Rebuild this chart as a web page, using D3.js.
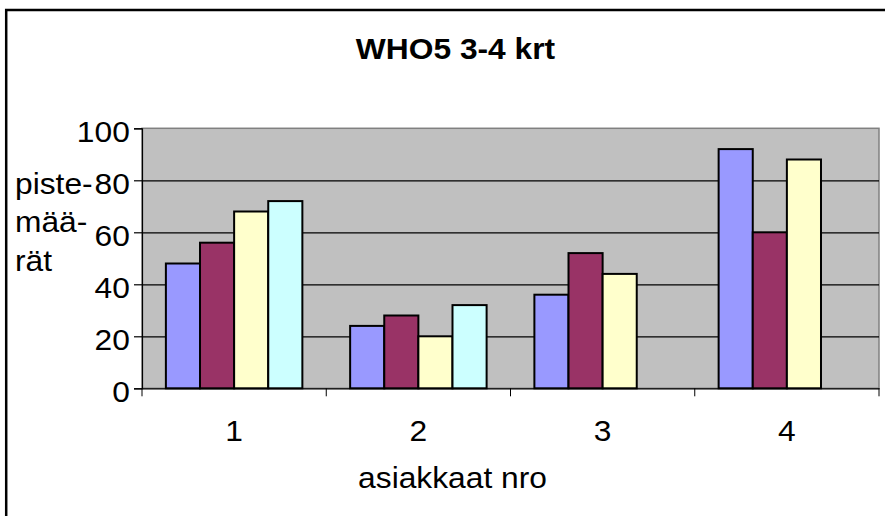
<!DOCTYPE html>
<html>
<head>
<meta charset="utf-8">
<script src="https://cdn.jsdelivr.net/npm/d3@7"></script>
<style>
  body { margin: 0; background: #fff; }
  text { font-family: "Liberation Sans", Arial, sans-serif; }
</style>
</head>
<body>
<div id="chart"></div>
<script>
// data
const categories = ["1", "2", "3", "4"];
const seriesNames = ["Sarja1", "Sarja2", "Sarja3", "Sarja4"];
const sarja1 = [48, 24, 36, 92];
const sarja2 = [56, 28, 52, 60];
const sarja3 = [68, 20, 44, 88];
const sarja4 = [72, 32, null, null];
const yTicks = [0, 20, 40, 60, 80, 100];
const colors = ["#9999FF", "#993366", "#FFFFCC", "#CCFFFF"];

const width = 885;
const height = 516;
const plot = { left: 142, right: 879, top: 128.3, bottom: 388.3 };
const fontSize = 29;
const sx = 1.095; // text in the original is a bit stretched sideways

const allSeries = [sarja1, sarja2, sarja3, sarja4];

const svg = d3.select("#chart")
  .append("svg")
  .attr("width", width)
  .attr("height", height);

// chart border (runs off the right and bottom edges)
svg.append("rect")
  .attr("x", 6.2)
  .attr("y", 10)
  .attr("width", 1000)
  .attr("height", 1000)
  .attr("fill", "#fff")
  .attr("stroke", "#000")
  .attr("stroke-width", 2.5);

const x0 = d3.scaleBand()
  .domain(categories)
  .range([plot.left, plot.right])
  .padding(0);

const x1 = d3.scaleBand()
  .domain(seriesNames)
  .range([0, x0.bandwidth()])
  .paddingInner(0)
  .paddingOuter(0.7);

const y = d3.scaleLinear()
  .domain([0, 100])
  .range([plot.bottom, plot.top]);

// plot area
svg.append("rect")
  .attr("x", plot.left)
  .attr("y", plot.top)
  .attr("width", plot.right - plot.left)
  .attr("height", plot.bottom - plot.top)
  .attr("fill", "#C0C0C0")
  .attr("stroke", "#808080")
  .attr("stroke-width", 1.5);

// gridlines
svg.append("g")
  .attr("transform", `translate(${plot.left},0)`)
  .call(d3.axisLeft(y).tickValues(yTicks.filter(t => t > 0 && t < 100))
    .tickSize(-(plot.right - plot.left)).tickFormat(""))
  .call(g => g.select(".domain").remove())
  .call(g => g.selectAll("line").attr("stroke", "#000").attr("stroke-width", 1.2));

// bars
const groups = svg.append("g")
  .selectAll("g")
  .data(categories)
  .join("g")
  .attr("transform", d => `translate(${x0(d)},0)`);

groups.selectAll("rect")
  .data((c, i) => seriesNames.map((s, j) => ({ key: s, idx: j, val: allSeries[j][i] }))
    .filter(d => d.val != null))
  .join("rect")
  .attr("x", d => x1(d.key))
  .attr("y", d => y(d.val))
  .attr("width", x1.bandwidth())
  .attr("height", d => y(0) - y(d.val))
  .attr("fill", d => colors[d.idx])
  .attr("stroke", "#000")
  .attr("stroke-width", 2);

// y axis
svg.append("g")
  .attr("transform", `translate(${plot.left},0)`)
  .call(d3.axisLeft(y).tickValues(yTicks).tickSize(8).tickPadding(0))
  .call(g => g.selectAll("line, path").attr("stroke", "#000").attr("stroke-width", 1.2))
  .call(g => g.selectAll("text")
    .attr("x", -12.2 / sx)
    .attr("dy", "13px")
    .attr("transform", `scale(${sx},1)`)
    .attr("font-size", fontSize)
    .attr("font-family", "Liberation Sans, Arial, sans-serif")
    .attr("fill", "#000"));

// x axis: labels at centres, ticks between categories
const xAxis = svg.append("g")
  .attr("transform", `translate(0,${plot.bottom})`)
  .call(d3.axisBottom(x0).tickSize(0).tickPadding(0))
  .call(g => g.select(".domain").attr("stroke", "#000").attr("stroke-width", 1.2))
  .call(g => g.selectAll("text")
    .attr("y", 441 - plot.bottom)
    .attr("dy", 0)
    .attr("transform", `scale(${sx},1)`)
    .attr("font-size", fontSize)
    .attr("font-family", "Liberation Sans, Arial, sans-serif")
    .attr("fill", "#000"));

const bounds = categories.map(c => x0(c)).concat([x0(categories[categories.length - 1]) + x0.bandwidth()]);
xAxis.selectAll(".sep")
  .data(bounds)
  .join("line")
  .attr("class", "sep")
  .attr("x1", d => d)
  .attr("x2", d => d)
  .attr("y1", 0)
  .attr("y2", 8)
  .attr("stroke", "#000");

// titles
function stretchedText(x, yy, txt, opts = {}) {
  return svg.append("text")
    .attr("transform", `translate(${x},${yy}) scale(${sx},1)`)
    .attr("font-size", fontSize)
    .attr("font-weight", opts.bold ? "bold" : "normal")
    .attr("text-anchor", opts.anchor || "start")
    .attr("fill", "#000")
    .text(txt);
}

stretchedText(455.5, 58.5, "WHO5 3-4 krt", { bold: true, anchor: "middle" });
stretchedText(452.5, 487.5, "asiakkaat nro", { anchor: "middle" });

const yTitle = ["piste-", "mää-", "rät"];
yTitle.forEach((t, i) => stretchedText(15, 193.7 + i * 38.5, t));
</script>
</body>
</html>
